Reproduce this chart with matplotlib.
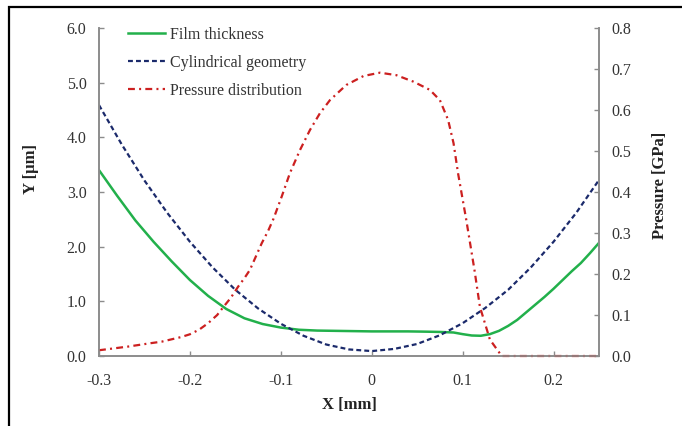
import matplotlib
matplotlib.use("Agg")
import matplotlib.pyplot as plt
from matplotlib.patches import Rectangle

# film thickness [um]
x_film = [-0.30, -0.28, -0.26, -0.24, -0.22, -0.20, -0.18, -0.16, -0.14, -0.12, -0.10,
          -0.08, -0.06, -0.04, -0.02, 0.00, 0.02, 0.04, 0.06, 0.075, 0.09, 0.10, 0.11,
          0.12, 0.13, 0.14, 0.15, 0.16, 0.17, 0.18, 0.19, 0.20, 0.21, 0.22, 0.23, 0.24, 0.25]
film = [3.40, 2.93, 2.48, 2.09, 1.73, 1.39, 1.10, 0.86, 0.69, 0.585, 0.52,
        0.48, 0.465, 0.46, 0.455, 0.45, 0.45, 0.45, 0.445, 0.44, 0.43, 0.40, 0.375,
        0.37, 0.40, 0.46, 0.55, 0.66, 0.80, 0.94, 1.08, 1.23, 1.39, 1.55, 1.70, 1.88, 2.07]

# cylindrical geometry [um]
x_cyl = [-0.300, -0.275, -0.250, -0.225, -0.200, -0.175, -0.150, -0.125, -0.100, -0.075,
         -0.050, -0.025, 0.000, 0.025, 0.050, 0.075, 0.100, 0.125, 0.150, 0.175, 0.200,
         0.225, 0.250]
cyl = [4.59, 3.87, 3.21, 2.62, 2.09, 1.62, 1.21, 0.87, 0.59, 0.37,
       0.21, 0.12, 0.09, 0.13, 0.22, 0.38, 0.60, 0.88, 1.21, 1.62, 2.09,
       2.62, 3.22]

# pressure [GPa]
x_p = [-0.300, -0.268, -0.244, -0.231, -0.210, -0.200, -0.190, -0.180, -0.170, -0.163,
       -0.155, -0.147, -0.140, -0.134, -0.128, -0.121, -0.114, -0.108, -0.099, -0.090,
       -0.079, -0.068, -0.057, -0.046, -0.028, -0.009, 0.009, 0.027, 0.046, 0.064,
       0.075, 0.084, 0.090, 0.095, 0.104, 0.113, 0.119, 0.130, 0.143, 0.200, 0.250]
press = [0.014, 0.023, 0.031, 0.035, 0.046, 0.053, 0.064, 0.080, 0.100, 0.120,
         0.142, 0.169, 0.190, 0.210, 0.240, 0.275, 0.305, 0.335, 0.389, 0.446,
         0.502, 0.551, 0.592, 0.624, 0.661, 0.683, 0.691, 0.685, 0.669, 0.649,
         0.624, 0.576, 0.519, 0.445, 0.332, 0.210, 0.120, 0.040, 0.0, 0.0, 0.0]

x_ticks = [-0.3, -0.2, -0.1, 0, 0.1, 0.2]
x_labels = ["-0.3", "-0.2", "-0.1", "0", "0.1", "0.2"]
y_ticks = [0, 1, 2, 3, 4, 5, 6]
p_ticks = [0, 0.1, 0.2, 0.3, 0.4, 0.5, 0.6, 0.7, 0.8]

plt.rcParams['font.family'] = ['Liberation Serif', 'DejaVu Serif']
plt.rcParams['axes.unicode_minus'] = False

txt = '#333333'
spine_c = '#8c8c8c'
green = '#22b04b'
navy = '#1b2a6b'
red = '#cc2020'

fig = plt.figure(figsize=(6.82, 4.26), dpi=100)
ax = fig.add_axes([99/682, 70/426, 500/682, 328/426])
ax2 = ax.twinx()

l1, = ax.plot(x_film, film, color=green, lw=1.8, label='Film thickness')
l2, = ax.plot(x_cyl, cyl, color=navy, lw=1.6, dashes=(2.2, 1.4), label='Cylindrical geometry')
l3, = ax2.plot(x_p, press, color=red, lw=1.6, dashes=(3.1, 1.9, 0.9, 1.9),
               label='Pressure distribution', clip_on=False)

ax.set_xlim(-0.3, 0.25)
ax.set_ylim(0, 6)
ax2.set_ylim(0, 0.8)
ax.set_xticks(x_ticks)
ax.set_xticklabels(x_labels)
ax.set_yticks(y_ticks)
ax.set_yticklabels(["%.1f" % v for v in y_ticks])
ax2.set_yticks(p_ticks)
ax2.set_yticklabels(["%.1f" % v for v in p_ticks])

for a in (ax, ax2):
    a.spines['top'].set_visible(False)
    for s in ('left', 'right', 'bottom'):
        a.spines[s].set_color(spine_c)
        a.spines[s].set_linewidth(1.2)
    a.tick_params(direction='in', length=3.5, width=1, color=spine_c,
                  labelcolor=txt, labelsize=11.5, pad=9)
ax.tick_params(axis='x', pad=12)

ax.set_xlabel('X [mm]', fontsize=12, fontweight='bold', color='#222222', labelpad=6)
ax.set_ylabel('Y [μm]', fontsize=12, fontweight='bold', color='#222222')
ax2.set_ylabel('Pressure [GPa]', fontsize=12, fontweight='bold', color='#222222')
ax.yaxis.set_label_coords(-0.12, 0.57)
ax2.yaxis.set_label_coords(1.106, 0.52)

ax.legend(handles=[l1, l2, l3], loc='upper left', bbox_to_anchor=(0.058, 1.004),
          frameon=False, fontsize=11.5, labelcolor=txt, handlelength=2.3,
          handletextpad=0.3, labelspacing=0.76, borderpad=0, borderaxespad=0)

fig.patches.append(Rectangle((9/682, -0.1), 2, (426 - 7)/426 + 0.1, transform=fig.transFigure,
                             fill=False, edgecolor='black', lw=1.6))

fig.savefig('out.png', dpi=100)
